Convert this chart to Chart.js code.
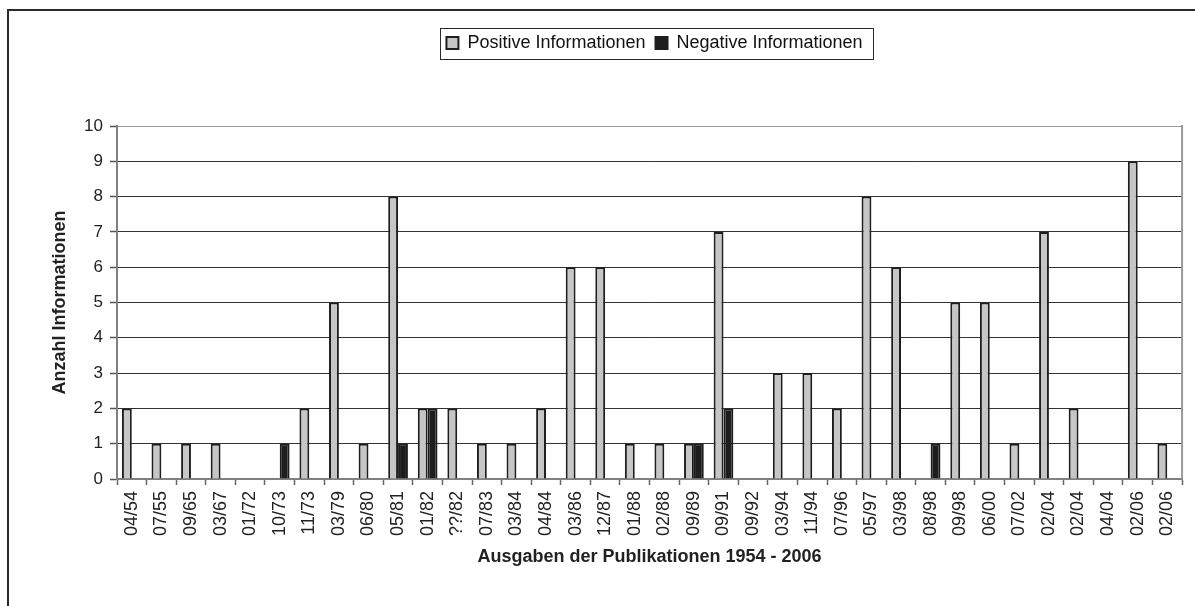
<!DOCTYPE html>
<html>
<head>
<meta charset="utf-8">
<script src="https://cdn.jsdelivr.net/npm/chart.js@4/dist/chart.umd.min.js"></script>
<style>
  html, body { margin: 0; padding: 0; background: #fff; overflow: hidden; }
  #wrap { position: relative; width: 1195px; height: 606px; }
  #frame { position: absolute; left: 7px; top: 9px; width: 2000px; height: 2000px;
           border-left: 2px solid #2a2a2a; border-top: 2px solid #2a2a2a; box-sizing: border-box; }
  #box { position: absolute; left: 0; top: 0; width: 1195px; height: 606px; }
</style>
</head>
<body>
<div id="wrap">
  <div id="frame"></div>
  <div id="box"><canvas id="c"></canvas></div>
</div>
<script>
// ---- data ----
const categories = ["04/54","07/55","09/65","03/67","01/72","10/73","11/73","03/79","06/80","05/81",
  "01/82","??/82","07/83","03/84","04/84","03/86","12/87","01/88","02/88","09/89",
  "09/91","09/92","03/94","11/94","07/96","05/97","03/98","08/98","09/98","06/00",
  "07/02","02/04","02/04","04/04","02/06","02/06"];
const positiveValues = [2,1,1,1,0,0,2,5,1,8, 2,2,1,1,2,6,6,1,1,1, 7,0,3,3,2,8,6,0,5,5, 1,7,2,0,9,1];
const negativeValues = [0,0,0,0,0,1,0,0,0,1, 2,0,0,0,0,0,0,0,0,1, 2,0,0,0,0,0,0,1,0,0, 0,0,0,0,0,0];
const seriesNames = ["Positive Informationen", "Negative Informationen"];
const yMin = 0, yMax = 10, yStep = 1;
const yTitle = "Anzahl Informationen";
const xTitle = "Ausgaben der Publikationen 1954 - 2006";

const FONT = "'Liberation Sans', Arial, sans-serif";

const decor = {
  id: 'decor',
  beforeLayout(chart) {
    const lg = chart.legend;
    if (lg && !lg._patchedFit) {
      const fit = lg.fit;
      lg.fit = function () { fit.call(this); this.height = 102; };
      lg._patchedFit = true;
    }
  },
  afterUpdate(chart) {
    const lg = chart.legend;
    if (!lg || !lg.legendHitBoxes || !lg.legendHitBoxes.length) return;
    const hb = lg.legendHitBoxes;
    const last = hb[hb.length - 1];
    const c = (hb[0].left + last.left + last.width) / 2;
    const target = (chart.chartArea.left + chart.chartArea.right) / 2 + 5;
    const d = target - c;
    lg.left += d; lg.right += d;
    hb.forEach(h => { h.left += d; });
  },
  afterDraw(chart) {
    const ctx = chart.ctx;
    const a = chart.chartArea;
    ctx.save();
    // plot area right border
    ctx.strokeStyle = '#9a9a9a';
    ctx.lineWidth = 2;
    ctx.beginPath();
    ctx.moveTo(a.right, a.top - 1);
    ctx.lineTo(a.right, a.bottom);
    ctx.stroke();
    // legend frame
    const lg = chart.legend;
    if (lg && lg.legendHitBoxes && lg.legendHitBoxes.length) {
      const hb = lg.legendHitBoxes;
      const last = hb[hb.length - 1];
      const l = Math.round(hb[0].left - 6) + 0.5;
      const r = Math.round(last.left + last.width + 10) + 0.5;
      const t = Math.round(hb[0].top - 6.5) + 0.5;
      const b = Math.round(hb[0].top + hb[0].height + 6.5) + 0.5;
      ctx.strokeStyle = '#2a2a2a';
      ctx.lineWidth = 1;
      ctx.strokeRect(l, t, r - l, b - t);
    }
    ctx.restore();
  }
};

new Chart(document.getElementById('c'), {
  type: 'bar',
  data: {
    labels: categories,
    datasets: [
      { label: seriesNames[0], data: positiveValues, backgroundColor: '#c6c6c6',
        borderColor: '#1e1e1e', borderWidth: 2, inflateAmount: 0 },
      { label: seriesNames[1], data: negativeValues, backgroundColor: '#1e1e1e',
        borderColor: '#1e1e1e', borderWidth: 2, inflateAmount: 0 }
    ]
  },
  options: {
    responsive: true,
    maintainAspectRatio: false,
    animation: false,
    layout: { padding: { left: 0, right: 9, top: 24, bottom: 0 } },
    datasets: { bar: { categoryPercentage: 0.667, barPercentage: 1.0 } },
    plugins: {
      legend: {
        position: 'top',
        labels: { font: { family: FONT, size: 18 }, color: '#111', boxWidth: 12, boxHeight: 12, padding: 10 }
      },
      tooltip: { enabled: false }
    },
    scales: {
      x: {
        offset: true,
        afterFit(s) { s.height = 127; },
        grid: { display: true, drawOnChartArea: false, offset: true, tickLength: 6, tickColor: '#666', tickWidth: 1.5 },
        border: { display: true, color: '#808080', width: 2 },
        ticks: { autoSkip: false, maxRotation: 90, minRotation: 90, padding: 6,
                 font: { family: FONT, size: 18 }, color: '#222' },
        title: { display: true, text: xTitle, font: { family: FONT, size: 18, weight: 'bold' },
                 color: '#222', padding: { top: 4, bottom: 38 } }
      },
      y: {
        min: yMin, max: yMax,
        afterFit(s) { s.width = 117; },
        grid: {
          color: (c) => (c.tick && c.tick.value === yMax) ? '#9a9a9a' : '#333',
          lineWidth: 1, tickLength: 7, tickColor: '#555', tickWidth: 1.5
        },
        border: { display: true, color: '#808080', width: 2 },
        ticks: { stepSize: yStep, padding: 7, font: { family: FONT, size: 17 }, color: '#222' },
        title: { display: true, text: yTitle, font: { family: FONT, size: 18, weight: 'bold' },
                 color: '#222', padding: { top: 49, bottom: 4 } }
      }
    }
  },
  plugins: [decor]
});
</script>
</body>
</html>
